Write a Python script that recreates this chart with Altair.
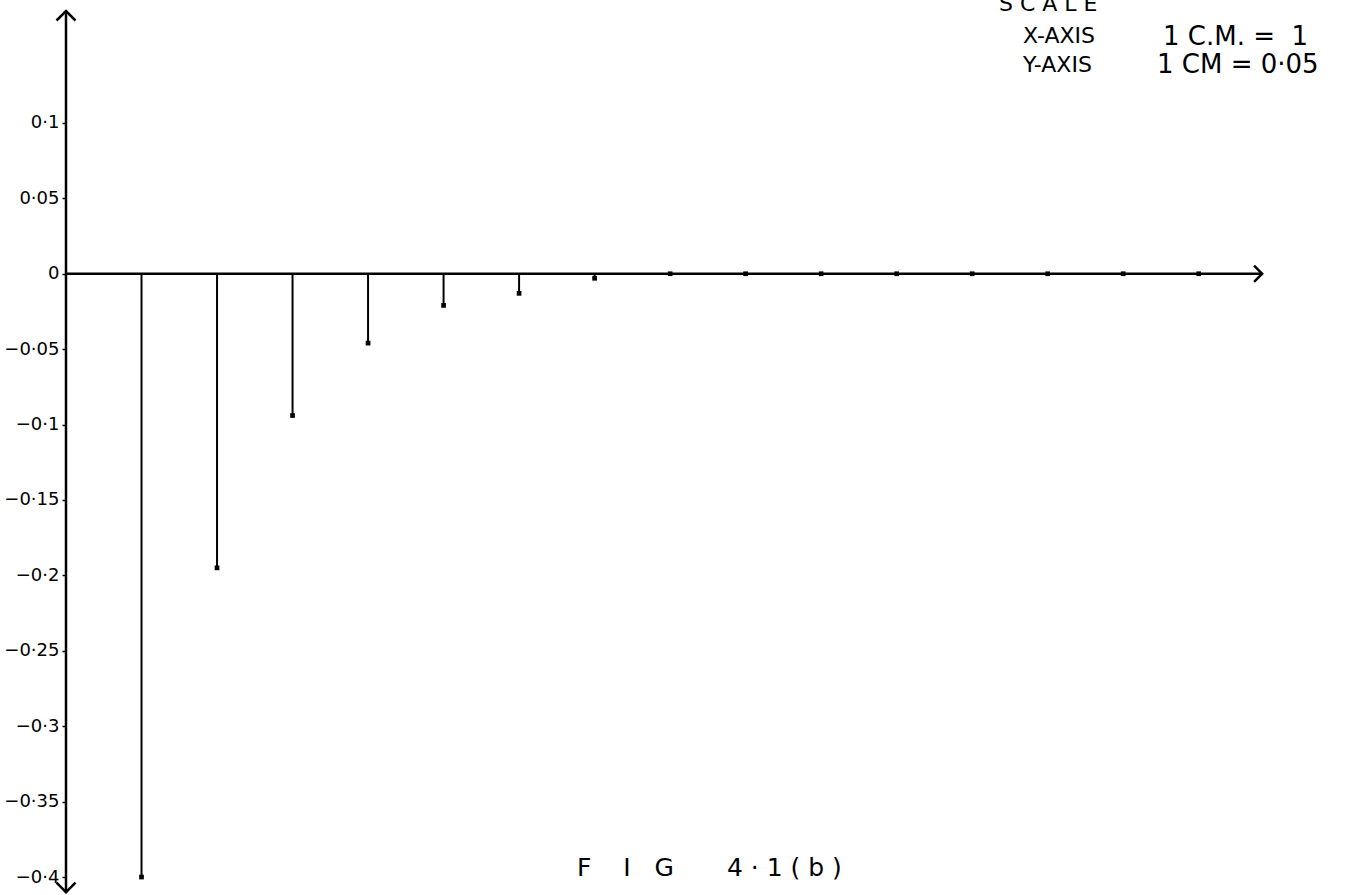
import altair as alt
import pandas as pd

# data
n_vals = list(range(1, 16))
h_vals = [-0.4, -0.195, -0.094, -0.046, -0.021, -0.013, -0.003,
          0, 0, 0, 0, 0, 0, 0, 0]
y_ticks = [0.1, 0.05, 0, -0.05, -0.1, -0.15, -0.2, -0.25, -0.3, -0.35, -0.4]

X_DOMAIN = [0, 17.03]
Y_DOMAIN = [-0.4119, 0.1815]
X_END = 15.84
Y_TOP = 0.1742
Y_BOT = -0.4100

FONT = "DejaVu Sans"
SP = "\u00a0"

stems = pd.DataFrame({"n": n_vals, "h": h_vals, "z": [0] * len(n_vals)})

xs = alt.Scale(domain=X_DOMAIN, nice=False, zero=False)
ys = alt.Scale(domain=Y_DOMAIN, nice=False, zero=False)


def X(field):
    return alt.X(field, type="quantitative", scale=xs, axis=None)


def Y(field):
    return alt.Y(field, type="quantitative", scale=ys, axis=None)


# y axis carrying the tick labels
axis_layer = alt.Chart(pd.DataFrame({"v": y_ticks})).mark_point(opacity=0).encode(
    y=alt.Y("v:Q", scale=ys, title=None,
            axis=alt.Axis(values=y_ticks, domain=False, ticks=True, tickSize=4,
                          tickColor="black", tickWidth=1.5,
                          labelPadding=3, labelFontSize=18, labelFont=FONT,
                          labelColor="black", grid=False,
                          labelExpr="replace(format(datum.value, '.2~f'), '.', '·')")),
    x=X("z"),
).transform_calculate(z="0")

# axes lines
yaxis_df = pd.DataFrame({"x": [0], "y1": [Y_BOT], "y2": [Y_TOP]})
yaxis = alt.Chart(yaxis_df).mark_rule(color="black", strokeWidth=2.5).encode(
    x=X("x"), y=Y("y1"), y2="y2:Q")

xaxis_df = pd.DataFrame({"x1": [0], "x2": [X_END], "y": [0]})
xaxis = alt.Chart(xaxis_df).mark_rule(color="black", strokeWidth=2.5).encode(
    x=X("x1"), x2="x2:Q", y=Y("y"))

# arrow heads
arr_right = alt.Chart(pd.DataFrame({"x": [X_END], "y": [0]})).mark_point(
    shape="M-1,-1L0,0L-1,1", size=260, filled=False, color="black", strokeWidth=2.5, opacity=1
).encode(x=X("x"), y=Y("y"))
arr_up = alt.Chart(pd.DataFrame({"x": [0], "y": [Y_TOP]})).mark_point(
    shape="M-1,1L0,0L1,1", size=360, filled=False, color="black", strokeWidth=2.5, opacity=1
).encode(x=X("x"), y=Y("y"))
arr_down = alt.Chart(pd.DataFrame({"x": [0], "y": [Y_BOT]})).mark_point(
    shape="M-1,-1L0,0L1,-1", size=360, filled=False, color="black", strokeWidth=2.5, opacity=1
).encode(x=X("x"), y=Y("y"))

# stems
stem_rules = alt.Chart(stems).mark_rule(color="black", strokeWidth=2).encode(
    x=X("n"), y=Y("z"), y2="h:Q")
stem_dots = alt.Chart(stems).mark_point(
    shape="square", filled=True, size=22, color="black", opacity=1
).encode(x=X("n"), y=Y("h"))

# annotations (pixel positions within the plot area)
notes = pd.DataFrame({
    "t": ["S C A L E", "X-AXIS", f"1{SP}C.M.{SP}={SP*2}1", "Y-AXIS", "1 CM = 0·05",
          f"F{SP*4}I{SP*3}G", f"4{SP}·{SP}1{SP}({SP}b{SP})"],
    "px": [933, 957, 1097, 957, 1091, 511, 661],
    "py": [11, 43, 45, 72, 73, 876, 876],
    "fs": [22, 22, 26, 22, 26, 25, 25],
})
note_layer = alt.Chart(notes).mark_text(
    align="left", baseline="alphabetic", font=FONT, color="black"
).encode(
    x=alt.X("px:Q", scale=alt.Scale(domain=[0, 1286], nice=False, zero=False), axis=None),
    y=alt.Y("py:Q", scale=alt.Scale(domain=[895, 0], nice=False, zero=False), axis=None),
    text="t:N",
    size=alt.Size("fs:Q", scale=None, legend=None),
)

chart = alt.layer(
    axis_layer, yaxis, xaxis, arr_right, arr_up, arr_down, stem_rules, stem_dots, note_layer
).resolve_scale(x="independent", y="independent").properties(
    width=1286, height=895, autosize="none",
    padding={"left": 66, "top": 0, "right": 0, "bottom": 0},
    background="white",
).configure_view(stroke=None)

chart.save("out.html", embed_options={"renderer": "svg", "actions": False})
